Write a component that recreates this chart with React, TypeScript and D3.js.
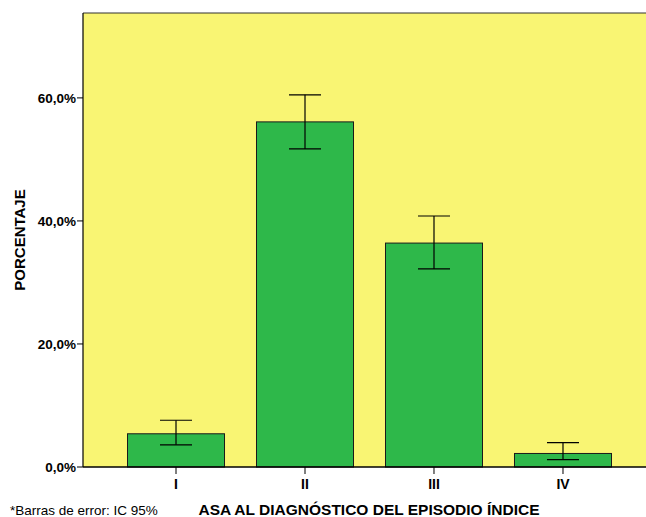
import React from "react";
import * as d3 from "d3";

const categories = ["I", "II", "III", "IV"];
const values = [5.4, 56.1, 36.4, 2.2];
const ciLow = [3.6, 51.7, 32.2, 1.2];
const ciHigh = [7.6, 60.5, 40.8, 3.95];
const yTicks = [0, 20, 40, 60];

const W = 646;
const H = 517;
const left = 83;
const top = 13;
const bottom = 467;
const rightExt = 656;

export default function App() {
  const x = d3
    .scaleBand<string>()
    .domain(categories)
    .range([left, rightExt])
    .paddingInner(0.248)
    .paddingOuter(0.345);
  const y = d3.scaleLinear().domain([0, 73.8]).range([bottom, top]);
  const fmt = (v: number) => v.toFixed(1).replace(".", ",") + "%";
  const font = "Arial, 'Liberation Sans', Helvetica, sans-serif";
  const cap = 16;

  return (
    <svg
      width={W}
      height={H}
      style={{ position: "absolute", left: 0, top: 0 }}
      fontFamily={font}
    >
      <rect x={0} y={0} width={W} height={H} fill="#ffffff" />
      <rect x={left} y={top} width={W - left} height={bottom - top} fill="#F9F573" />
      <line x1={left} x2={W} y1={top} y2={top} stroke="#333" strokeWidth={1.2} />
      {categories.map((c, i) => {
        const bx = x(c)!;
        const bw = x.bandwidth();
        const cx = bx + bw / 2;
        return (
          <g key={c}>
            <rect
              x={bx}
              y={y(values[i])}
              width={bw}
              height={bottom - y(values[i])}
              fill="#2EB84A"
              stroke="#1a1a1a"
              strokeWidth={1}
            />
            <line x1={cx} x2={cx} y1={y(ciLow[i])} y2={y(ciHigh[i])} stroke="#000" strokeWidth={1.2} />
            <line x1={cx - cap} x2={cx + cap} y1={y(ciLow[i])} y2={y(ciLow[i])} stroke="#000" strokeWidth={1.2} />
            <line x1={cx - cap} x2={cx + cap} y1={y(ciHigh[i])} y2={y(ciHigh[i])} stroke="#000" strokeWidth={1.2} />
            <line x1={cx} x2={cx} y1={bottom} y2={bottom + 7} stroke="#000" strokeWidth={1} />
            <text
              x={cx}
              y={bottom + 22}
              textAnchor="middle"
              fontSize={14}
              fontWeight="bold"
              fill="#000"
            >
              {c}
            </text>
          </g>
        );
      })}
      <line x1={left} x2={left} y1={top} y2={bottom} stroke="#000" strokeWidth={1.2} />
      <line x1={left} x2={W} y1={bottom} y2={bottom} stroke="#000" strokeWidth={1.5} />
      {yTicks.map((t) => (
        <g key={t}>
          <line x1={left - 6} x2={left} y1={y(t)} y2={y(t)} stroke="#000" strokeWidth={1} />
          <text
            x={left - 7}
            y={y(t) + 5}
            textAnchor="end"
            fontSize={13.5}
            fontWeight="bold"
            fill="#000"
          >
            {fmt(t)}
          </text>
        </g>
      ))}
      <text
        transform={`translate(25, ${(top + bottom) / 2}) rotate(-90)`}
        textAnchor="middle"
        fontSize={15}
        fontWeight="bold"
        fill="#000"
      >
        PORCENTAJE
      </text>
      <text x={369} y={515} textAnchor="middle" fontSize={15.5} fontWeight="bold" fill="#000">
        ASA AL DIAGNÓSTICO DEL EPISODIO ÍNDICE
      </text>
      <text x={10} y={515} fontSize={13.5} fill="#000">
        *Barras de error: IC 95%
      </text>
    </svg>
  );
}
